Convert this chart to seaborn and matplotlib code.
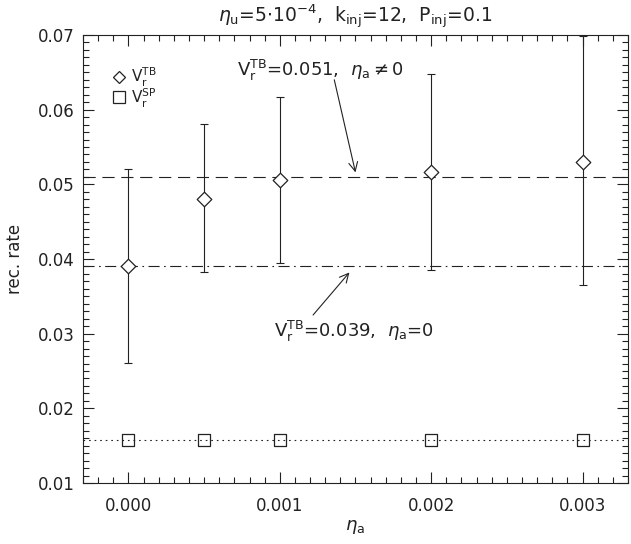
import numpy as np
import pandas as pd
import seaborn as sns
import matplotlib.pyplot as plt
from matplotlib.ticker import MultipleLocator, FormatStrFormatter

# Data
eta_a = [0.0, 0.0005, 0.001, 0.002, 0.003]
vr_tb = [0.0391, 0.0481, 0.0506, 0.0516, 0.0530]
vr_tb_low = [0.0261, 0.0382, 0.0395, 0.0385, 0.0365]
vr_tb_high = [0.0520, 0.0581, 0.0617, 0.0648, 0.0698]
vr_sp = [0.0157, 0.0157, 0.0157, 0.0157, 0.0157]

level_nonzero = 0.051
level_zero = 0.039
level_sp = 0.0157

x_ticks = [0.0, 0.001, 0.002, 0.003]
y_ticks = [0.01, 0.02, 0.03, 0.04, 0.05, 0.06, 0.07]

sns.set_style("ticks")
plt.rcParams['font.family'] = ['DejaVu Sans']
plt.rcParams['mathtext.fontset'] = 'dejavusans'
plt.rcParams['xtick.direction'] = 'in'
plt.rcParams['ytick.direction'] = 'in'

df = pd.DataFrame({"eta_a": eta_a, "tb": vr_tb, "sp": vr_sp})
c = '#222222'

fig = plt.figure(figsize=(6.31, 5.44), dpi=100)
ax = fig.add_axes([0.1315, 0.1121, 0.8637, 0.8236])

# reference levels
ax.axhline(level_nonzero, color=c, lw=0.8, ls=(0, (11, 6)))
ax.axhline(level_zero, color=c, lw=0.8, ls=(0, (10, 4, 1.5, 4)))
ax.axhline(level_sp, color=c, lw=0.8, ls=(0, (1.5, 3.5)))

# error bars
tb = np.array(vr_tb)
err = [tb - np.array(vr_tb_low), np.array(vr_tb_high) - tb]
ax.errorbar(eta_a, vr_tb, yerr=err, fmt='none', ecolor=c, elinewidth=0.8,
            capsize=3, capthick=0.8, zorder=2)

sns.scatterplot(data=df, x="eta_a", y="tb", marker='D', s=55, facecolor='white',
                edgecolor=c, linewidth=0.9, ax=ax, zorder=3)
sns.scatterplot(data=df, x="eta_a", y="sp", marker='s', s=75, facecolor='none',
                edgecolor=c, linewidth=0.9, ax=ax, zorder=3)

ax.set_xlim(-0.0003, 0.0033)
ax.set_ylim(0.01, 0.07)
ax.set_xticks(x_ticks)
ax.set_yticks(y_ticks)
ax.xaxis.set_major_formatter(FormatStrFormatter('%.3f'))
ax.yaxis.set_major_formatter(FormatStrFormatter('%.2f'))
ax.xaxis.set_minor_locator(MultipleLocator(0.0001))
ax.yaxis.set_minor_locator(MultipleLocator(0.001))
ax.tick_params(which='both', top=True, right=True, color=c, width=0.8)
ax.tick_params(which='major', length=8, labelsize=12, labelcolor=c)
ax.tick_params(axis='x', which='major', pad=10)
ax.tick_params(axis='y', which='major', pad=6)
ax.tick_params(which='minor', length=4)
for s in ax.spines.values():
    s.set_color(c)
    s.set_linewidth(0.8)

ax.set_xlabel(r'$\eta_{\rm a}$', fontsize=13, color=c, labelpad=2)
ax.set_ylabel('rec. rate', fontsize=12, color=c, labelpad=10)
ax.set_title(r'$\eta_{\rm u}$=5$\cdot$10$^{-4}$,  k$_{\rm inj}$=12,  P$_{\rm inj}$=0.1',
             fontsize=13.5, color=c, pad=9)

# legend drawn as text + markers in axes coords
ax.plot([0.067], [0.906], marker='D', ms=6.5, mfc='none', mec=c, mew=0.9,
        transform=ax.transAxes, clip_on=False)
ax.plot([0.067], [0.862], marker='s', ms=8, mfc='none', mec=c, mew=0.9,
        transform=ax.transAxes, clip_on=False)
ax.text(0.088, 0.906, r'$\mathrm{V}_{\rm r}^{\rm TB}$', transform=ax.transAxes,
        fontsize=11, va='center', color=c)
ax.text(0.088, 0.858, r'$\mathrm{V}_{\rm r}^{\rm SP}$', transform=ax.transAxes,
        fontsize=11, va='center', color=c)

# annotations: text and arrows placed separately
ax.text(0.00072, 0.0652, r'$\mathrm{V}_{\rm r}^{\rm TB}$=0.051,  $\eta_{\rm a}\neq$0',
        fontsize=13, color=c, va='center')
ax.annotate('', xy=(0.00150, 0.0516), xytext=(0.00136, 0.0640),
            arrowprops=dict(arrowstyle='->', color=c, lw=0.8, shrinkA=0, shrinkB=0,
                            mutation_scale=16))
ax.text(0.00096, 0.0303, r'$\mathrm{V}_{\rm r}^{\rm TB}$=0.039,  $\eta_{\rm a}$=0',
        fontsize=13, color=c, va='center')
ax.annotate('', xy=(0.00146, 0.0382), xytext=(0.00122, 0.0325),
            arrowprops=dict(arrowstyle='->', color=c, lw=0.8, shrinkA=0, shrinkB=0,
                            mutation_scale=16))

fig.savefig('out.png', dpi=100)
